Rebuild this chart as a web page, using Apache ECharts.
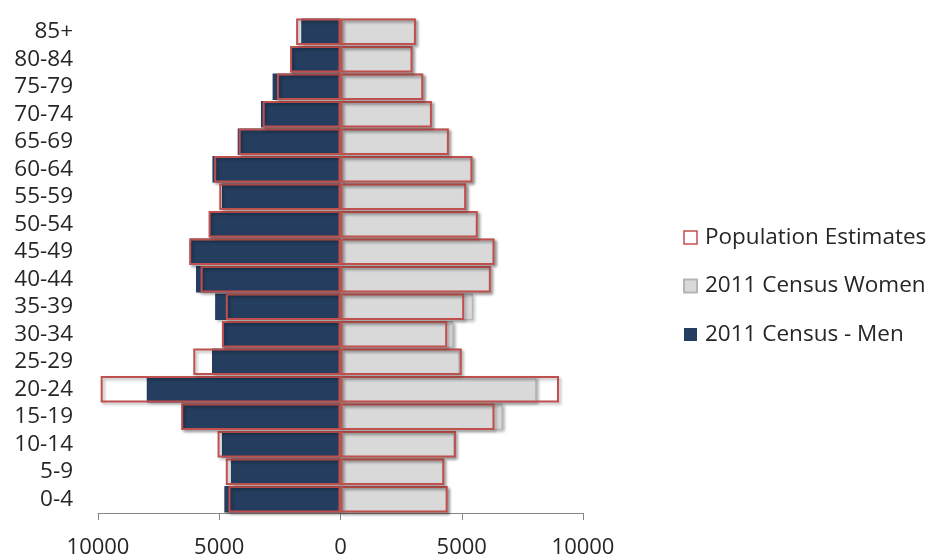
<!DOCTYPE html>
<html>
<head>
<meta charset="utf-8">
<script src="https://cdn.jsdelivr.net/npm/echarts@6/dist/echarts.min.js"></script>
<style>
  html, body { margin: 0; background: #fff; }
  #chart { width: 935px; height: 556px; }
</style>
</head>
<body>
<div id="chart"></div>
<script>
// tranches d'age, du bas vers le haut
const ageGroups = ["0-4", "5-9", "10-14", "15-19", "20-24", "25-29", "30-34", "35-39", "40-44",
  "45-49", "50-54", "55-59", "60-64", "65-69", "70-74", "75-79", "80-84", "85+"];

// hommes a gauche (valeurs negatives)
const censusMen = [-4790, -4520, -4890, -6540, -7990, -5300, -4840, -5170, -5960,
  -6210, -5390, -4890, -5280, -4240, -3280, -2800, -2040, -1620];
const estimateMen = [-4620, -4730, -5070, -6570, -9890, -6070, -4890, -4730, -5770,
  -6240, -5440, -5000, -5210, -4200, -3210, -2620, -2080, -1830];

// femmes a droite
const censusWomen = [4400, 4250, 4700, 6680, 8070, 4900, 4650, 5460, 6200,
  6350, 5660, 5180, 5440, 4470, 3770, 3410, 2970, 3110];
const estimateWomen = [4420, 4280, 4760, 6350, 9010, 5000, 4400, 5100, 6200,
  6350, 5660, 5180, 5440, 4470, 3770, 3410, 2970, 3110];

const xTicks = [-10000, -5000, 0, 5000, 10000];

const FONT = "'Open Sans', sans-serif";
const RED = "#c0504d";
const shadow = { shadowColor: "rgba(0,0,0,0.3)", shadowBlur: 3, shadowOffsetX: 2, shadowOffsetY: 2 };

const chart = echarts.init(document.getElementById("chart"));

const barCommon = { type: "bar", barGap: "-100%", barCategoryGap: "4%", silent: true };

chart.setOption({
  animation: false,
  backgroundColor: "#fff",
  grid: { left: 98, right: 352, top: 18, bottom: 43, containLabel: false, outerBoundsMode: "none" },
  legend: {
    orient: "vertical",
    left: 678,
    top: 221,
    itemWidth: 13,
    itemHeight: 13,
    itemGap: 25.5,
    textStyle: { fontFamily: FONT, fontSize: 22.5, color: "#262626", lineHeight: 20, padding: [0, 0, 0, 3] },
    data: [
      { name: "Population Estimates", icon: "rect", itemStyle: { color: "#fff", borderColor: RED, borderWidth: 1.5 } },
      { name: "2011 Census Women", icon: "rect" },
      { name: "2011 Census - Men", icon: "rect" }
    ]
  },
  xAxis: {
    type: "value",
    min: xTicks[0],
    max: xTicks[xTicks.length - 1],
    interval: 5000,
    axisLine: { show: true, lineStyle: { color: "#868686" } },
    axisTick: { show: true, length: 7, lineStyle: { color: "#868686" } },
    splitLine: { show: false },
    axisLabel: {
      margin: 24,
      fontFamily: FONT,
      fontSize: 22,
      color: "#262626",
      formatter: v => String(Math.abs(v))
    }
  },
  yAxis: {
    type: "category",
    data: ageGroups,
    axisLine: { show: false },
    axisTick: { show: false },
    axisLabel: { interval: 0, margin: 25, fontFamily: FONT, fontSize: 22.5, color: "#262626" }
  },
  series: [
    Object.assign({}, barCommon, {
      name: "2011 Census - Men",
      data: censusMen,
      itemStyle: Object.assign({ color: "#253e5f" }, shadow)
    }),
    Object.assign({}, barCommon, {
      name: "2011 Census Women",
      data: censusWomen,
      itemStyle: Object.assign({ color: "#d9d9d9", borderColor: "#b5b5b5", borderWidth: 1 }, shadow)
    }),
    Object.assign({}, barCommon, {
      name: "Population Estimates",
      data: estimateMen,
      itemStyle: Object.assign({ color: "rgba(0,0,0,0)", borderColor: RED, borderWidth: 2 }, shadow)
    }),
    Object.assign({}, barCommon, {
      name: "Population Estimates",
      data: estimateWomen,
      itemStyle: Object.assign({ color: "rgba(0,0,0,0)", borderColor: RED, borderWidth: 2 }, shadow)
    })
  ]
});
</script>
</body>
</html>
